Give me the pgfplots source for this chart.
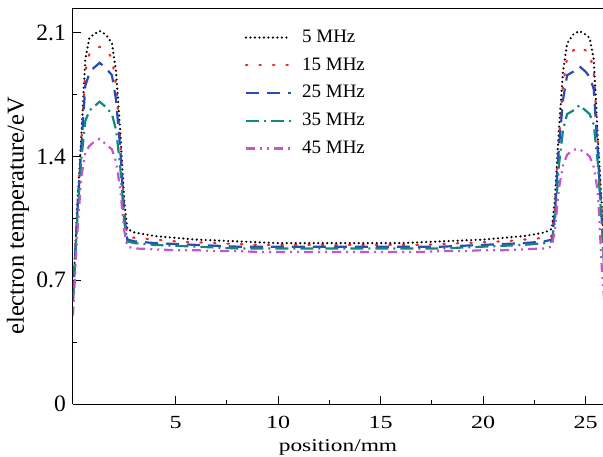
\documentclass[border=0pt]{standalone}
\usepackage{graphicx}
\usepackage{pgfplots}
\pgfplotsset{compat=1.18}
\usepackage{fontspec}
\setmainfont{Liberation Serif}
\definecolor{cred}{RGB}{235,45,35}
\definecolor{cblue}{RGB}{40,75,185}
\definecolor{cteal}{RGB}{20,135,125}
\definecolor{cmag}{RGB}{195,85,205}
\begin{document}
\fontsize{18}{21}\selectfont
\begin{tikzpicture}
\begin{axis}[
  at={(0pt,0pt)}, anchor=origin,
  scale only axis, width=530pt, height=396pt,
  xmin=0, xmax=25.85, ymin=0, ymax=2.24,
  axis x line*=box, axis y line*=left,
  xtick={5,10,15,20,25}, minor x tick num=1,
  ytick={0,0.7,1.4,2.1}, minor y tick num=1,
  xticklabels={\scalebox{1.3}[1]{5},\scalebox{1.3}[1]{10},\scalebox{1.3}[1]{15},\scalebox{1.3}[1]{20},\scalebox{1.3}[1]{25}},
  yticklabels={0,0.7,1.4,2.1},
  xtick pos=bottom, ytick pos=left,
  tick align=inside,
  major tick length=8pt, minor tick length=4pt,
  tick style={black, line width=0.8pt},
  axis line style={line width=1pt},
  /pgf/number format/assume math mode=true,
  xticklabel style={font=\fontsize{18.5}{21}\selectfont, yshift=-6pt},
  yticklabel style={font=\fontsize{23.5}{26}\selectfont, xshift=-1pt},
  xlabel={\scalebox{1.3}[1]{position/mm}}, ylabel={electron temperature/eV},
  xlabel style={font=\fontsize{18}{21}\selectfont, at={(axis description cs:0.5,0)}, anchor=north, yshift=-29pt},
  ylabel style={font=\fontsize{24.5}{27}\selectfont, at={(axis description cs:0,0.475)}, anchor=south, yshift=37.7pt},
  legend style={at={(0.318,0.955)}, anchor=north west, draw=none, fill=none,
    font=\fontsize{19}{22}\selectfont, row sep=8.5pt,
    /tikz/every odd column/.append style={column sep=8pt}},
  legend cell align=left,
  legend image code/.code={\draw[#1] (0pt,0pt) -- (45pt,0pt);},
  every axis plot/.append style={line width=2.2pt},
  clip=true,
]
\addplot[black, line cap=round, dash pattern=on 0pt off 4.5pt, line width=2.4pt] coordinates {
(0,0.62)(0.2,1.10)(0.4,1.50)(0.6,1.95)(0.8,2.07)(1.0,2.09)(1.3,2.11)(1.6,2.09)(1.9,2.04)(2.1,1.88)(2.3,1.55)(2.5,1.15)(2.65,0.99)
(3,0.97)(4,0.95)(5,0.94)(6,0.93)(7,0.925)(8,0.92)(9,0.915)(10,0.91)(11,0.91)(12,0.91)(13,0.91)(14,0.91)(15,0.91)(16,0.91)(17,0.915)(18,0.92)(19,0.925)(20,0.93)(21,0.94)(22,0.95)(23,0.97)
(23.35,0.99)(23.5,1.15)(23.7,1.55)(23.9,1.88)(24.1,2.04)(24.4,2.09)(24.7,2.11)(25.0,2.09)(25.2,2.07)(25.4,1.95)(25.6,1.50)(25.8,1.10)(26,0.62)};
\addlegendentry{5 MHz}
\addplot[cred, line cap=round, dash pattern=on 1.5pt off 12pt] coordinates {
(0,0.60)(0.2,1.08)(0.4,1.47)(0.6,1.88)(0.8,1.98)(1.0,2.00)(1.3,2.02)(1.6,2.00)(1.9,1.96)(2.1,1.80)(2.3,1.50)(2.5,1.10)(2.65,0.95)
(3,0.94)(4,0.93)(5,0.92)(6,0.915)(7,0.91)(8,0.905)(9,0.90)(10,0.90)(11,0.90)(12,0.90)(13,0.90)(14,0.90)(15,0.90)(16,0.90)(17,0.90)(18,0.905)(19,0.91)(20,0.915)(21,0.92)(22,0.93)(23,0.94)
(23.35,0.95)(23.5,1.10)(23.7,1.50)(23.9,1.80)(24.1,1.96)(24.4,2.00)(24.7,2.02)(25.0,2.00)(25.2,1.98)(25.4,1.88)(25.6,1.47)(25.8,1.05)(26,0.58)};
\addlegendentry{15 MHz}
\addplot[cblue, dash pattern=on 13pt off 8pt] coordinates {
(0,0.60)(0.2,1.06)(0.4,1.44)(0.6,1.80)(0.8,1.87)(1.0,1.90)(1.3,1.93)(1.6,1.90)(1.9,1.86)(2.1,1.72)(2.3,1.45)(2.5,1.07)(2.65,0.93)
(3,0.92)(4,0.91)(5,0.905)(6,0.90)(7,0.895)(8,0.89)(9,0.89)(10,0.89)(11,0.89)(12,0.89)(13,0.89)(14,0.89)(15,0.89)(16,0.89)(17,0.89)(18,0.89)(19,0.895)(20,0.90)(21,0.905)(22,0.91)(23,0.92)
(23.35,0.93)(23.5,1.07)(23.7,1.45)(23.9,1.72)(24.1,1.86)(24.4,1.88)(24.7,1.91)(25.0,1.88)(25.2,1.85)(25.4,1.78)(25.6,1.42)(25.8,1.02)(26,0.58)};
\addlegendentry{25 MHz}
\addplot[cteal, dash pattern=on 13pt off 5pt on 2pt off 5pt] coordinates {
(0,0.58)(0.2,1.03)(0.4,1.38)(0.6,1.60)(0.8,1.66)(1.0,1.68)(1.3,1.71)(1.6,1.68)(1.9,1.64)(2.1,1.55)(2.3,1.35)(2.5,1.03)(2.65,0.92)
(3,0.91)(4,0.90)(5,0.895)(6,0.89)(7,0.885)(8,0.88)(9,0.88)(10,0.88)(11,0.88)(12,0.88)(13,0.88)(14,0.88)(15,0.88)(16,0.88)(17,0.88)(18,0.88)(19,0.885)(20,0.89)(21,0.895)(22,0.90)(23,0.91)
(23.35,0.92)(23.5,1.03)(23.7,1.35)(23.9,1.55)(24.1,1.64)(24.4,1.66)(24.7,1.69)(25.0,1.66)(25.2,1.64)(25.4,1.58)(25.6,1.36)(25.8,1.00)(26,0.56)};
\addlegendentry{35 MHz}
\addplot[cmag, dash pattern=on 9pt off 5pt on 2pt off 5pt on 2pt off 5pt] coordinates {
(0,0.50)(0.2,0.95)(0.4,1.28)(0.6,1.42)(0.8,1.46)(1.0,1.48)(1.3,1.50)(1.6,1.47)(1.9,1.44)(2.1,1.37)(2.3,1.22)(2.5,0.98)(2.65,0.89)
(3,0.88)(4,0.875)(5,0.87)(6,0.87)(7,0.865)(8,0.865)(9,0.86)(10,0.86)(11,0.86)(12,0.86)(13,0.86)(14,0.86)(15,0.86)(16,0.86)(17,0.86)(18,0.865)(19,0.865)(20,0.87)(21,0.87)(22,0.875)(23,0.88)
(23.35,0.89)(23.5,0.98)(23.7,1.22)(23.9,1.35)(24.1,1.41)(24.4,1.44)(24.7,1.44)(25.0,1.42)(25.2,1.40)(25.4,1.34)(25.6,1.20)(25.8,0.75)(26,0.45)};
\addlegendentry{45 MHz}
\end{axis}
\pgfresetboundingbox
\path[use as bounding box] (-73pt,-52pt) rectangle (530pt,404pt);
\end{tikzpicture}
\end{document}
